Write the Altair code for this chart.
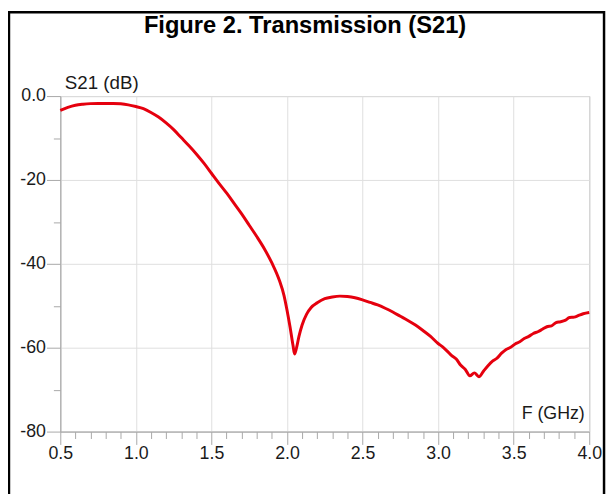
import altair as alt
import pandas as pd

# ---- data ----
FREQ_GHZ = [0.50, 0.55, 0.60, 0.65, 0.70, 0.75, 0.80, 0.85, 0.90, 0.95,
            1.00, 1.05, 1.10, 1.15, 1.20, 1.25, 1.30, 1.35, 1.40, 1.45,
            1.50, 1.55, 1.60, 1.65, 1.70, 1.75, 1.80, 1.85, 1.90, 1.95,
            1.98, 2.00, 2.02, 2.04, 2.05, 2.06, 2.08, 2.10, 2.13, 2.16,
            2.20, 2.25, 2.30, 2.35, 2.40, 2.45, 2.50, 2.55, 2.60, 2.65,
            2.70, 2.75, 2.80, 2.85, 2.90, 2.95, 3.00, 3.03, 3.06, 3.09,
            3.12, 3.15, 3.18, 3.21, 3.24, 3.27, 3.30, 3.33, 3.36, 3.39,
            3.42, 3.45, 3.48, 3.51, 3.54, 3.57, 3.60, 3.63, 3.66, 3.69,
            3.72, 3.75, 3.78, 3.81, 3.84, 3.87, 3.90, 3.93, 3.96, 4.00]
S21_DB = [-3.4, -2.7, -2.2, -1.95, -1.8, -1.75, -1.75, -1.75, -1.85, -2.1,
          -2.5, -3.0, -3.9, -5.0, -6.4, -8.0, -9.9, -11.8, -13.8, -16.0,
          -18.4, -20.8, -23.1, -25.6, -28.1, -30.8, -33.5, -36.4, -39.8, -44.0,
          -47.5, -51.0, -55.0, -59.5, -61.5, -60.5, -57.2, -54.6, -52.0, -50.4,
          -49.3, -48.3, -47.9, -47.7, -47.8, -48.1, -48.6, -49.2, -49.8, -50.6,
          -51.5, -52.5, -53.5, -54.6, -55.9, -57.3, -59.0, -59.8, -60.8, -61.9,
          -62.7, -64.2, -65.2, -66.7, -66.0, -66.9, -65.6, -64.3, -63.2, -62.5,
          -61.3, -60.4, -59.9, -59.1, -58.6, -57.8, -57.3, -56.6, -56.2, -55.6,
          -55.0, -54.8, -54.0, -53.8, -53.5, -52.8, -52.7, -52.3, -51.9, -51.6]

X_TICKS = [0.5, 0.6, 0.7, 0.8, 0.9, 1.0, 1.1, 1.2, 1.3, 1.4, 1.5, 1.6,
           1.7, 1.8, 1.9, 2.0, 2.1, 2.2, 2.3, 2.4, 2.5, 2.6, 2.7, 2.8,
           2.9, 3.0, 3.1, 3.2, 3.3, 3.4, 3.5, 3.6, 3.7, 3.8, 3.9, 4.0]
Y_TICKS = [-80, -70, -60, -50, -40, -30, -20, -10, 0]

TITLE = "Figure 2. Transmission (S21)"
X_TITLE = "F (GHz)"
Y_TITLE = "S21 (dB)"

FONT = "Liberation Sans"
TEXT_COLOR = "#1a1a1a"
AXIS_GRAY = "#a8a8a8"
GRID_GRAY = "#dedede"
LINE_RED = "#e5000e"

df = pd.DataFrame({"f": FREQ_GHZ, "s21": S21_DB})

major_x = "round(datum.value * 10) % 5 == 0"
major_y = "round(datum.value) % 20 == 0"

x_axis = alt.Axis(
    values=X_TICKS,
    title=X_TITLE,
    labelExpr=f"({major_x}) ? format(datum.value, '.1f') : ''",
    grid=True,
    gridColor=GRID_GRAY,
    gridOpacity={"condition": {"test": major_x, "value": 1}, "value": 0},
    tickSize={"condition": {"test": major_x, "value": 13}, "value": 7},
    tickColor=AXIS_GRAY,
    domainColor=AXIS_GRAY,
    labelFont=FONT,
    labelFontSize=18,
    labelColor=TEXT_COLOR,
    labelPadding=0,
    labelFlush=False,
    labelOverlap=False,
    titleFont=FONT,
    titleFontSize=18,
    titleFontWeight="normal",
    titleColor=TEXT_COLOR,
    titleX=531,
    titleY=-13,
    titleAlign="right",
    titleBaseline="alphabetic",
)

y_axis = alt.Axis(
    values=Y_TICKS,
    title=Y_TITLE,
    labelExpr=f"datum.value == 0 ? '0.0' : (({major_y}) ? ('' + datum.value) : '')",
    grid=True,
    gridColor=GRID_GRAY,
    gridOpacity={"condition": {"test": major_y, "value": 1}, "value": 0},
    tickSize={"condition": {"test": major_y, "value": 14}, "value": 7},
    tickColor=AXIS_GRAY,
    domainColor=AXIS_GRAY,
    labelFont=FONT,
    labelFontSize=18,
    labelColor=TEXT_COLOR,
    labelPadding=1,
    labelOverlap=False,
    titleFont=FONT,
    titleFontSize=19,
    titleFontWeight="normal",
    titleColor=TEXT_COLOR,
    titleAngle=0,
    titleX=4,
    titleY=-8,
    titleAlign="left",
    titleBaseline="alphabetic",
)

line = alt.Chart(df).mark_line(
    color=LINE_RED, strokeWidth=3, interpolate="monotone"
).encode(
    x=alt.X("f:Q", scale=alt.Scale(domain=[0.5, 4.0], nice=False, zero=False), axis=x_axis),
    y=alt.Y("s21:Q", scale=alt.Scale(domain=[-80, 0], nice=False, zero=False), axis=y_axis),
)

one_row = alt.Data(values=[{}])

title_text = alt.Chart(one_row).mark_text(
    text=TITLE, font=FONT, fontSize=24, fontWeight="bold", color="#000000",
    align="center", baseline="alphabetic",
).encode(x=alt.value(248), y=alt.value(-64))

frame = alt.Chart(one_row).mark_rect(
    fillOpacity=0, stroke="#000000", strokeWidth=2.5,
).encode(
    x=alt.value(-52), x2=alt.value(551), y=alt.value(-85), y2=alt.value(430)
)

chart = alt.layer(frame, line, title_text).properties(
    width=536,
    height=340,
    padding={"left": 53, "top": 86, "right": 18, "bottom": 60},
    autosize=alt.AutoSizeParams(type="none"),
    background="white",
).configure_view(
    stroke=AXIS_GRAY, strokeWidth=1
)

chart.save("out.html", embed_options={"renderer": "svg", "actions": False})
